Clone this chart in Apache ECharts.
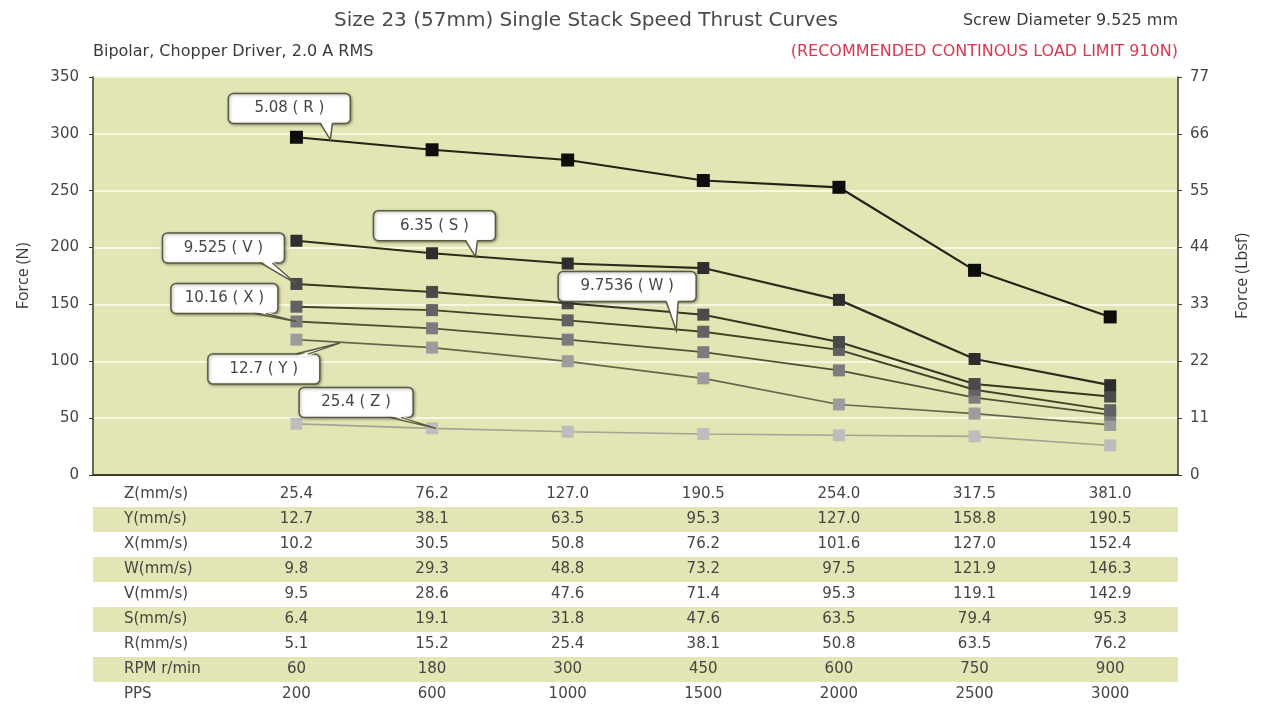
<!DOCTYPE html>
<html>
<head>
<meta charset="utf-8">
<title>Size 23 Speed Thrust Curves</title>
<script src="https://cdn.jsdelivr.net/npm/echarts@6/dist/echarts.min.js"></script>
<style>
  html, body { margin: 0; padding: 0; background: #fff; }
  #chart { width: 1267px; height: 707px; }
</style>
</head>
<body>
<div id="chart"></div>
<script>
// speeds of each lead (table rows), one value per column
const zSpeed = ['25.4', '76.2', '127.0', '190.5', '254.0', '317.5', '381.0'];
const ySpeed = ['12.7', '38.1', '63.5', '95.3', '127.0', '158.8', '190.5'];
const xSpeed = ['10.2', '30.5', '50.8', '76.2', '101.6', '127.0', '152.4'];
const wSpeed = ['9.8', '29.3', '48.8', '73.2', '97.5', '121.9', '146.3'];
const vSpeed = ['9.5', '28.6', '47.6', '71.4', '95.3', '119.1', '142.9'];
const sSpeed = ['6.4', '19.1', '31.8', '47.6', '63.5', '79.4', '95.3'];
const rSpeed = ['5.1', '15.2', '25.4', '38.1', '50.8', '63.5', '76.2'];
const rpm = ['60', '180', '300', '450', '600', '750', '900'];
const pps = ['200', '600', '1000', '1500', '2000', '2500', '3000'];
const rowLabels = ['Z(mm/s)', 'Y(mm/s)', 'X(mm/s)', 'W(mm/s)', 'V(mm/s)', 'S(mm/s)', 'R(mm/s)', 'RPM r/min', 'PPS'];

// thrust (N) per lead
const rForce = [297, 286, 277, 259, 253, 180, 139];
const sForce = [206, 195, 186, 182, 154, 102, 79];
const vForce = [168, 161, 151, 141, 117, 80, 69];
const wForce = [148, 145, 136, 126, 110, 75, 57];
const xForce = [135, 129, 119, 108, 92, 68, 53];
const yForce = [119, 112, 100, 85, 62, 54, 44];
const zForce = [45, 41, 38, 36, 35, 34, 26];

// callouts: text and where the pointer touches (column index, N)
const calloutTexts = ['5.08 ( R )', '6.35 ( S )', '9.525 ( V )', '10.16 ( X )', '9.7536 ( W )', '12.7 ( Y )', '25.4 ( Z )'];
const calloutTips = [[1.25, 295], [2.32, 192], [1.0, 168], [1.0, 135], [3.8, 127], [1.32, 116], [2.03, 41]];

const leftTicks = [0, 50, 100, 150, 200, 250, 300, 350];
const rightTicks = [0, 11, 22, 33, 44, 55, 66, 77];

// ---- styling (kept apart from the data) ----
const FONT = '"DejaVu Sans", "Open Sans", sans-serif';
const NAMEFONT = '"Open Sans", "Noto Sans", sans-serif';
const BG = '#e3e6b4';
const AXIS = '#3b3b28';
const TXT = '#454545';
const calloutBox = [
  [-41, -31, 122], [-41, -31, 122], [-73, -36, 122], [-72, -23, 107],
  [-49, -44, 138], [-76, 26, 112], [-80, -26, 114]
];
const seriesStyle = [
  { name: 'Z', data: zForce, sym: '#bdbdbd', line: '#a3a396', w: 1.6, size: 12 },
  { name: 'Y', data: yForce, sym: '#9c9c9c', line: '#66664f', w: 1.7, size: 12 },
  { name: 'X', data: xForce, sym: '#7c7c7c', line: '#515139', w: 1.8, size: 12 },
  { name: 'W', data: wForce, sym: '#626262', line: '#42422a', w: 1.9, size: 12 },
  { name: 'V', data: vForce, sym: '#4a4a4a', line: '#363622', w: 2, size: 12 },
  { name: 'S', data: sForce, sym: '#2e2e2e', line: '#2c2c1c', w: 2.2, size: 12 },
  { name: 'R', data: rForce, sym: '#0d0d0d', line: '#222216', w: 2.2, size: 13 }
];

const categories = [''].concat(zSpeed);
const tableRows = [zSpeed, ySpeed, xSpeed, wSpeed, vSpeed, sSpeed, rSpeed, rpm, pps];
const tableData = [];
tableRows.forEach((row, r) => row.forEach((v, c) => tableData.push([c + 1, r, v])));

const lineSeries = seriesStyle.map(s => ({
  name: s.name,
  type: 'line',
  xAxisIndex: 0,
  yAxisIndex: 0,
  data: [null].concat(s.data),
  symbol: 'rect',
  symbolSize: s.size,
  showAllSymbol: true,
  lineStyle: { color: s.line, width: s.w },
  itemStyle: { color: s.sym, borderWidth: 0 },
  emphasis: { disabled: true },
  animation: false,
  z: 3
}));

const calloutSeries = {
  type: 'custom',
  xAxisIndex: 2,
  yAxisIndex: 0,
  data: calloutTips,
  z: 10,
  animation: false,
  renderItem(params, api) {
    const i = params.dataIndex;
    const tip = api.coord([api.value(0), api.value(1)]);
    const [dx, dy, w] = calloutBox[i];
    const h = 30;
    const cx = tip[0] + dx, cy = tip[1] + dy;
    const x0 = cx - w / 2, y0 = cy - h / 2;
    const by = dy < 0 ? y0 + h : y0;
    const inset = dy < 0 ? -2 : 2;
    const bx = Math.min(Math.max(tip[0] - 10, x0 + 12), x0 + w - 24);
    const b1 = [bx, by], b2 = [bx + 12, by];
    return {
      type: 'group',
      children: [
        { type: 'rect', shape: { x: x0, y: y0, width: w, height: h, r: 5 },
          style: { fill: '#fff', stroke: '#5a5a40', lineWidth: 1.5,
                   shadowBlur: 3, shadowColor: 'rgba(0,0,0,0.35)', shadowOffsetX: 1, shadowOffsetY: 1 } },
        { type: 'polygon', shape: { points: [[b1[0], by + inset], tip, [b2[0], by + inset]] },
          style: { fill: '#fff' } },
        { type: 'polyline', shape: { points: [b1, tip, b2] },
          style: { stroke: '#5a5a40', lineWidth: 1.5, fill: null } },
        { type: 'text', x: cx, y: cy,
          style: { text: calloutTexts[i], align: 'center', verticalAlign: 'middle',
                   fill: TXT, font: '15px ' + FONT } }
      ]
    };
  }
};

const option = {
  backgroundColor: '#fff',
  animation: false,
  textStyle: { fontFamily: FONT },
  graphic: [
    { type: 'text', x: 586, y: 21, style: { text: 'Size 23 (57mm) Single Stack Speed Thrust Curves',
      align: 'center', verticalAlign: 'middle', fill: '#4a4a4a', font: '20px ' + FONT } },
    { type: 'text', x: 1178, y: 21, style: { text: 'Screw Diameter 9.525 mm',
      align: 'right', verticalAlign: 'middle', fill: '#3a3a3a', font: '16px ' + FONT } },
    { type: 'text', x: 93, y: 52, style: { text: 'Bipolar, Chopper Driver, 2.0 A RMS',
      align: 'left', verticalAlign: 'middle', fill: '#3a3a3a', font: '16px ' + FONT } },
    { type: 'text', x: 1178, y: 52, style: { text: '(RECOMMENDED CONTINOUS LOAD LIMIT 910N)',
      align: 'right', verticalAlign: 'middle', fill: '#d9374f', font: '16px ' + FONT } }
  ],
  grid: [
    { left: 93, right: 89, top: 77, height: 398, show: true, backgroundColor: BG, borderWidth: 0 },
    { left: 93, right: 89, top: 482, height: 226 }
  ],
  xAxis: [
    {
      type: 'category', gridIndex: 0, data: categories, boundaryGap: true,
      axisLine: { onZero: false, lineStyle: { color: AXIS, width: 2 } },
      axisTick: { inside: true, length: 6, lineStyle: { color: AXIS, width: 2 } },
      axisLabel: { show: false },
      splitLine: { show: false }
    },
    {
      type: 'category', gridIndex: 1, data: categories, boundaryGap: true, show: false
    },
    {
      type: 'value', gridIndex: 0, min: -0.5, max: 7.5, show: false
    }
  ],
  yAxis: [
    {
      type: 'value', gridIndex: 0, min: 0, max: 350, interval: 50,
      name: 'Force (N)', nameLocation: 'middle', nameGap: 62, nameRotate: 90,
      nameTextStyle: { color: '#3a3a3a', fontSize: 16, fontFamily: NAMEFONT },
      axisLine: { show: true, onZero: false, lineStyle: { color: AXIS, width: 1.5 } },
      axisTick: { show: true, length: 4, lineStyle: { color: AXIS } },
      axisLabel: { color: TXT, fontSize: 15, margin: 14, fontFamily: FONT,
                   formatter: v => leftTicks.includes(v) ? String(v) : '' },
      splitLine: { show: true, lineStyle: { color: '#f6f8df', width: 2 } }
    },
    {
      type: 'value', gridIndex: 0, min: 0, max: 77, interval: 11, position: 'right',
      name: 'Force (Lbsf)', nameLocation: 'middle', nameGap: 56, nameRotate: 90,
      nameTextStyle: { color: '#3a3a3a', fontSize: 16, fontFamily: NAMEFONT },
      axisLine: { show: true, onZero: false, lineStyle: { color: AXIS, width: 1.5 } },
      axisTick: { show: true, length: 4, lineStyle: { color: AXIS } },
      axisLabel: { color: TXT, fontSize: 15, margin: 12, fontFamily: FONT,
                   formatter: v => rightTicks.includes(v) ? String(v) : '' },
      splitLine: { show: false }
    },
    {
      type: 'category', gridIndex: 1, data: rowLabels, inverse: true,
      axisLine: { show: false }, axisTick: { show: false },
      axisLabel: { inside: true, margin: 31, color: TXT, fontSize: 15, fontFamily: FONT },
      splitLine: { show: false },
      splitArea: { show: true, areaStyle: { color: ['rgba(255,255,255,0)', BG] } }
    }
  ],
  series: lineSeries.concat([
    calloutSeries,
    {
      type: 'scatter',
      xAxisIndex: 1,
      yAxisIndex: 2,
      data: tableData,
      symbolSize: 1,
      itemStyle: { color: 'rgba(0,0,0,0)', opacity: 1 },
      label: { show: true, position: 'inside', formatter: p => p.data[2],
               color: TXT, opacity: 1, fontSize: 15, fontFamily: FONT },
      emphasis: { disabled: true },
      animation: false
    }
  ])
};

const myChart = echarts.init(document.getElementById('chart'));
myChart.setOption(option);
window.addEventListener('resize', () => myChart.resize());
</script>
</body>
</html>
